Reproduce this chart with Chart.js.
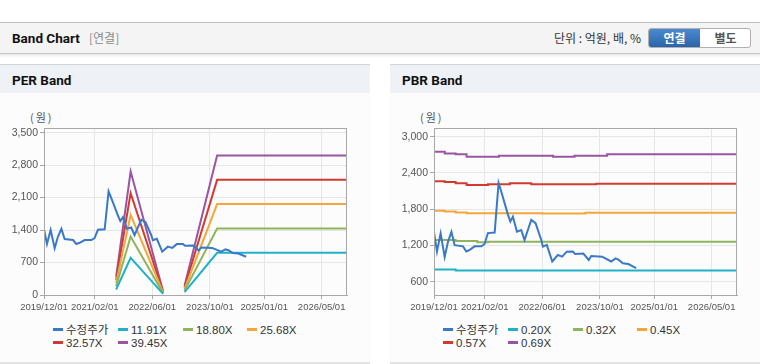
<!DOCTYPE html>
<html><head><meta charset="utf-8">
<script src="https://cdn.jsdelivr.net/npm/chart.js@4/dist/chart.umd.min.js"></script>
<style>
html,body{margin:0;padding:0;background:#fff;}
body{width:760px;height:364px;position:relative;overflow:hidden;font-family:"Liberation Sans","Noto Sans CJK KR",sans-serif;}
.abs{position:absolute;}
#hdr{left:0;top:22px;width:760px;height:30px;background:#f4f4f4;border-top:1px solid #bdbdbd;border-bottom:1px solid #c6c6c6;box-shadow:0 2px 2px rgba(0,0,0,0.08);}
#hdrTitle{left:12px;top:29px;font:bold 13.5px Roboto,"Noto Sans CJK KR",sans-serif;color:#111;line-height:18px;}
#hdrSub{left:89px;top:29px;font:12px "Noto Sans CJK KR",sans-serif;color:#8a8a8a;line-height:18px;}
#unit{right:119px;top:29px;font:12px "Noto Sans CJK KR",sans-serif;color:#333;line-height:18px;}
#btns{left:648px;top:28px;width:101px;height:18px;border:1px solid #b0b0b0;border-radius:3px;overflow:hidden;background:#fff;}
#btnA{left:0;top:0;width:51px;height:18px;background:linear-gradient(#4b8ad0,#2a64a8);color:#fff;font:bold 12px "Noto Sans CJK KR",sans-serif;text-align:center;line-height:18px;}
#btnB{left:52px;top:0;width:49px;height:18px;color:#555;font:bold 12px "Noto Sans CJK KR",sans-serif;text-align:center;line-height:18px;}
.panel{top:64px;width:370px;height:298px;background:#fcfcfc;border-bottom:2px solid #e2e2e2;}
.phead{left:0;top:0;width:370px;height:28px;background:#eef2f7;border-top:1px solid #d4d4d4;}
.ptitle{left:12px;top:6px;font:bold 13.5px Roboto,"Noto Sans CJK KR",sans-serif;color:#111;line-height:18px;}
.unitLbl{left:30px;top:46px;font:11px "Noto Sans CJK KR",sans-serif;color:#555;line-height:14px;letter-spacing:2px;}
canvas.cv{position:absolute;left:0;top:29px;}
.leg{position:absolute;font:11.5px "Liberation Sans","Noto Sans CJK KR",sans-serif;color:#333;line-height:13px;white-space:nowrap;}
.leg i{display:inline-block;width:10px;height:3px;vertical-align:middle;margin-right:3px;position:relative;top:-1px;}
</style></head>
<body>
<div id="hdr" class="abs"></div>
<div id="hdrTitle" class="abs">Band Chart</div>
<div id="hdrSub" class="abs">[연결]</div>
<div id="unit" class="abs">단위 : 억원, 배, %</div>
<div id="btns" class="abs"><div id="btnA" class="abs">연결</div><div id="btnB" class="abs">별도</div></div>

<div id="perPanel" class="abs panel" style="left:0;">
  <div class="abs phead"><div class="abs ptitle">PER Band</div></div>
  <div class="abs unitLbl">(원)</div>
  <canvas id="perChart" class="cv" width="370" height="227"></canvas>
  <div id="perLegend"></div>
</div>
<div id="pbrPanel" class="abs panel" style="left:390px;">
  <div class="abs phead"><div class="abs ptitle">PBR Band</div></div>
  <div class="abs unitLbl">(원)</div>
  <canvas id="pbrChart" class="cv" width="370" height="227"></canvas>
  <div id="pbrLegend"></div>
</div>

<script>
// ---------- DATA ----------
const xTickDates = ['2019-12-01','2021-02-01','2022-06-01','2023-10-01','2025-01-01','2026-05-01'];
const xMinDate = '2019-12-01';
const xMaxDate = '2026-12-01';

const priceDates = ['2019-12-01','2019-12-26','2020-01-26','2020-02-29','2020-03-28','2020-04-26','2020-05-23','2020-08-02','2020-08-30','2020-09-27','2020-11-08','2021-01-04','2021-01-31','2021-02-28','2021-04-26','2021-05-29','2021-06-21','2021-08-16','2021-09-05','2021-09-27','2021-10-31','2021-12-06','2022-01-03','2022-01-31','2022-03-01','2022-04-06','2022-05-24','2022-06-07','2022-07-10','2022-08-25','2022-10-11','2022-11-17','2022-12-25','2023-02-15','2023-03-05','2023-05-14','2023-06-29','2023-07-20','2023-10-20','2024-01-04','2024-02-10','2024-03-09','2024-04-11','2024-05-28','2024-08-02'];
const priceValues = [1420,1100,1400,1010,1260,1425,1205,1185,1100,1126,1185,1185,1225,1405,1415,2235,2090,1710,1596,1677,1428,1455,1290,1455,1622,1568,1290,1180,1210,935,1042,1015,1097,1100,1060,1065,960,1025,1015,935,985,960,905,893,825];

const perLabels = ['수정주가','11.91X','18.80X','25.68X','32.57X','39.45X'];
const perBandDates = ['2021-08-01','2021-12-01','2022-09-01','2022-12-01','2023-03-01','2023-12-01','2026-12-01'];
const per1191 = [119, 800, 24, null, 60, 910, 910];
const per1880 = [188, 1262, 38, null, 94, 1434, 1434];
const per2568 = [257, 1730, 51, null, 128, 1960, 1960];
const per3257 = [326, 2196, 65, null, 163, 2482, 2482];
const per3945 = [395, 2662, 79, null, 197, 3005, 3005];
const perYTicks = [0,700,1400,2100,2800,3500];

const pbrLabels = ['수정주가','0.20X','0.32X','0.45X','0.57X','0.69X'];
const pbrBandDates = ['2019-12-01','2020-03-01','2020-06-01','2020-09-01','2020-12-01','2021-03-01','2021-06-01','2021-09-01','2021-12-01','2022-03-01','2022-06-01','2022-09-01','2022-12-01','2023-03-01','2023-06-01','2023-09-01','2023-12-01','2026-12-01'];
const pbr020 = [800,800,785,785,785,785,785,785,785,785,785,785,785,785,785,785,785,782];
const pbr032 = [1290,1290,1274,1274,1252,1262,1262,1262,1262,1262,1262,1262,1262,1262,1262,1262,1262,1262];
const pbr045 = [1776,1760,1745,1732,1732,1732,1732,1732,1732,1732,1727,1727,1727,1727,1740,1740,1740,1740];
const pbr057 = [2262,2250,2229,2201,2201,2212,2212,2229,2229,2212,2212,2212,2212,2212,2212,2223,2223,2223];
const pbr069 = [2752,2724,2709,2670,2670,2670,2686,2686,2686,2686,2686,2670,2670,2686,2686,2686,2709,2709];
const pbrYTicks = [600,1200,1800,2400,3000];

const seriesColors = ['#3a78c8','#1fb2c6','#8fb45a','#f3a73a','#d23a30','#9a55a2'];

// ---------- HELPERS ----------
const ts = s => new Date(s + 'T00:00:00Z').getTime();
const pad = n => (n < 10 ? '0' : '') + n;
const fmtDate = v => { const d = new Date(v); return d.getUTCFullYear() + '/' + pad(d.getUTCMonth()+1) + '/' + pad(d.getUTCDate()); };
const pts = (dates, vals) => dates.map((d,i) => ({x: ts(d), y: vals[i]}));

const frame = {
  id: 'frame',
  afterDraw(chart){
    const a = chart.chartArea, c = chart.ctx;
    c.save(); c.strokeStyle = '#a8a8a8'; c.lineWidth = 1;
    c.strokeRect(Math.round(a.left)+0.5, Math.round(a.top)+0.5, Math.round(a.right-a.left)-1, Math.round(a.bottom-a.top));
    c.restore();
  }
};

function makeChart(id, datasets, yMin, yMax, yTicks, stepped){
  return new Chart(document.getElementById(id), {
    type: 'line',
    data: { datasets: datasets.map((d,i) => ({
      label: d.label, data: d.data, borderColor: seriesColors[i], backgroundColor: seriesColors[i],
      borderWidth: 2, pointRadius: 0, tension: 0, spanGaps: false,
      stepped: (i > 0 && stepped) ? true : false, order: i === 0 ? 0 : 1
    }))},
    options: {
      responsive: false, animation: false, devicePixelRatio: 1,
      layout: { padding: { left: 0, right: 23, top: 35, bottom: 0 } },
      plugins: { legend: { display: false }, tooltip: { enabled: false } },
      scales: {
        x: {
          type: 'linear', min: ts(xMinDate), max: ts(xMaxDate),
          afterBuildTicks: s => { s.ticks = xTickDates.map(d => ({ value: ts(d) })); },
          afterFit: s => { s.height = 25; },
          ticks: { callback: v => fmtDate(v), autoSkip: false, maxRotation: 0, padding: 3,
                   color: '#555', font: { family: '"Liberation Sans"', size: 9.5 } },
          grid: { color: '#e6e6e6', tickColor: '#a8a8a8', tickLength: 4 },
          border: { color: '#a8a8a8' }
        },
        y: {
          min: yMin, max: yMax,
          afterBuildTicks: s => { s.ticks = yTicks.map(v => ({ value: v })); },
          afterFit: s => { s.width = 44; },
          ticks: { callback: v => v.toLocaleString('en-US'), padding: 2, color: '#555',
                   font: { family: '"Liberation Sans"', size: 10.5 } },
          grid: { color: '#e6e6e6', tickColor: '#a8a8a8', tickLength: 4 },
          border: { color: '#a8a8a8' }
        }
      }
    },
    plugins: [frame]
  });
}

function makeLegend(id, labels){
  const el = document.getElementById(id);
  const cols = [53,118,183,247];
  labels.forEach((lab,i) => {
    const d = document.createElement('div');
    d.className = 'leg';
    d.style.left = cols[i % 4] + 'px';
    d.style.top = (260 + Math.floor(i/4)*13) + 'px';
    d.innerHTML = '<i style="background:' + seriesColors[i] + '"></i>' + lab;
    el.appendChild(d);
  });
}

makeChart('perChart', [
  { label: perLabels[0], data: pts(priceDates, priceValues) },
  { label: perLabels[1], data: pts(perBandDates, per1191) },
  { label: perLabels[2], data: pts(perBandDates, per1880) },
  { label: perLabels[3], data: pts(perBandDates, per2568) },
  { label: perLabels[4], data: pts(perBandDates, per3257) },
  { label: perLabels[5], data: pts(perBandDates, per3945) }
], 0, 3600, perYTicks, false);

makeChart('pbrChart', [
  { label: pbrLabels[0], data: pts(priceDates, priceValues) },
  { label: pbrLabels[1], data: pts(pbrBandDates, pbr020) },
  { label: pbrLabels[2], data: pts(pbrBandDates, pbr032) },
  { label: pbrLabels[3], data: pts(pbrBandDates, pbr045) },
  { label: pbrLabels[4], data: pts(pbrBandDates, pbr057) },
  { label: pbrLabels[5], data: pts(pbrBandDates, pbr069) }
], 380, 3144, pbrYTicks, true);

makeLegend('perLegend', perLabels);
makeLegend('pbrLegend', pbrLabels);
</script>
</body></html>
